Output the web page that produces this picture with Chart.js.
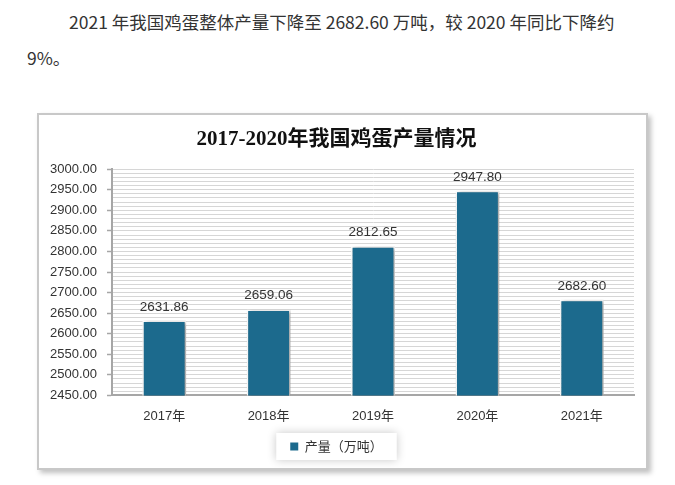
<!DOCTYPE html>
<html lang="zh">
<head>
<meta charset="UTF-8">
<title>2017-2020年我国鸡蛋产量情况</title>
<script src="https://cdn.jsdelivr.net/npm/chart.js"></script>
<style>
  html, body { margin: 0; padding: 0; background: #fff; }
  body { width: 675px; height: 485px; position: relative; overflow: hidden;
         font-family: "Noto Sans CJK SC", sans-serif; color: #333; }
  .para { position: absolute; left: 0; font-size: 17.5px; line-height: 20px; white-space: nowrap; }
  #p1 { top: 12px; left: 69px; }
  #p2 { top: 48px; left: 27px; }
  .box { position: absolute; left: 37px; top: 113px; width: 607px; height: 353px;
         border: 2px solid #c8c8c8; background: #fff;
         box-shadow: 3px 3px 5px rgba(0,0,0,0.25); }
  canvas { display: block; }
</style>
</head>
<body>
<div class="para" id="p1">2021 年我国鸡蛋整体产量下降至 2682.60 万吨，较 2020 年同比下降约</div>
<div class="para" id="p2">9%。</div>
<div class="box"><canvas id="eggChart" width="607" height="353"></canvas></div>

<script>
  const years = ["2017年", "2018年", "2019年", "2020年", "2021年"];
  const output = [2631.86, 2659.06, 2812.65, 2947.80, 2682.60];
  const seriesName = "产量（万吨）";
  const yMin = 2450;
  const yMax = 3000;

  const numFont = '"Liberation Sans", "Noto Sans CJK SC", sans-serif';

  // values above the bars
  const valueLabels = {
    id: "valueLabels",
    afterDatasetsDraw(chart) {
      const c = chart.ctx;
      const meta = chart.getDatasetMeta(0);
      c.save();
      c.font = "13.5px " + numFont;
      c.fillStyle = "#333";
      c.textAlign = "center";
      c.textBaseline = "bottom";
      meta.data.forEach((bar, i) => {
        c.fillText(output[i].toFixed(2), bar.x, bar.y - 7);
      });
      c.restore();
    }
  };

  // soft shadow under the bars
  const barShadow = {
    id: "barShadow",
    beforeDatasetDraw(chart) {
      const c = chart.ctx;
      c.save();
      c.shadowColor = "rgba(0,0,0,0.4)";
      c.shadowBlur = 4;
      c.shadowOffsetX = 2;
      c.shadowOffsetY = 1;
    },
    afterDatasetDraw(chart) {
      chart.ctx.restore();
    }
  };

  // faint shadowed panel behind the legend
  const legendPanel = {
    id: "legendPanel",
    beforeDraw(chart) {
      const lg = chart.legend;
      if (!lg || !lg.legendHitBoxes || !lg.legendHitBoxes.length) return;
      const hb = lg.legendHitBoxes[0];
      const c = chart.ctx;
      c.save();
      c.shadowColor = "rgba(0,0,0,0.22)";
      c.shadowBlur = 10;
      c.fillStyle = "#fff";
      c.fillRect(hb.left - 14, hb.top - 7, hb.width + 28, hb.height + 14);
      c.restore();
    }
  };

  new Chart(document.getElementById("eggChart"), {
    type: "bar",
    data: {
      labels: years,
      datasets: [{
        label: seriesName,
        data: output,
        backgroundColor: "#1c6a8d",
        borderColor: "#ffffff",
        borderWidth: 1.5,
        barPercentage: 0.42,
        categoryPercentage: 1
      }]
    },
    options: {
      responsive: false,
      animation: false,
      layout: { padding: { left: 0, right: 12, top: 0, bottom: 5 } },
      plugins: {
        title: {
          display: true,
          text: "2017-2020年我国鸡蛋产量情况",
          color: "#111",
          font: { family: '"Liberation Serif", "Noto Sans CJK SC", serif', size: 21, weight: "bold" },
          padding: { top: 12, bottom: 17 }
        },
        legend: {
          position: "bottom",
          labels: {
            color: "#333",
            font: { family: '"Noto Sans CJK SC", sans-serif', size: 13 },
            boxWidth: 8,
            boxHeight: 8,
            padding: 11,
            generateLabels(chart) {
              return Chart.defaults.plugins.legend.labels.generateLabels(chart).map(l => {
                l.strokeStyle = "#1c6a8d";
                l.lineWidth = 0;
                return l;
              });
            }
          }
        },
        tooltip: { enabled: false }
      },
      scales: {
        x: {
          grid: { display: false },
          border: { display: true, color: "#a6a6a6", width: 2 },
          ticks: { color: "#333", font: { family: numFont, size: 13 }, padding: 5 }
        },
        y: {
          min: yMin,
          max: yMax,
          afterFit(scale) { scale.width = 73; },
          grid: {
            color: "#d6d6d6",
            lineWidth: 1,
            tickLength: 5,
            tickColor: ctx => (ctx.tick && ctx.tick.value % 50 === 0) ? "#a6a6a6" : "rgba(0,0,0,0)",
            tickWidth: 1.5
          },
          border: { display: true, color: "#a6a6a6", width: 2 },
          ticks: {
            stepSize: 10,
            autoSkip: false,
            color: "#333",
            font: { family: numFont, size: 13 },
            padding: 10,
            callback: v => (v % 50 === 0 ? v.toFixed(2) : "")
          }
        }
      }
    },
    plugins: [legendPanel, barShadow, valueLabels]
  });
</script>
</body>
</html>
